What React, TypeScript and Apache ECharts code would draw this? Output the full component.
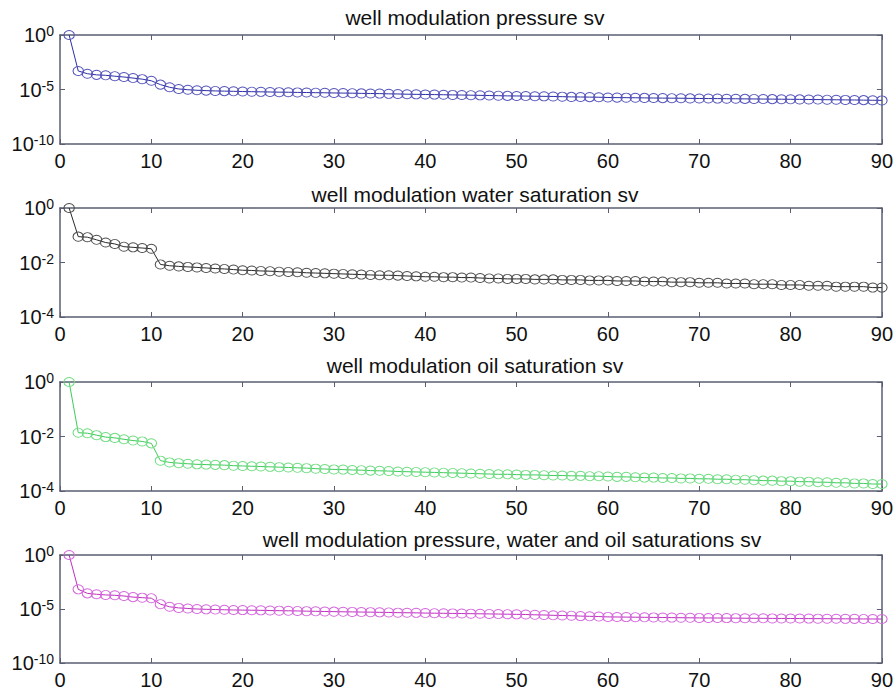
import React, { useEffect, useRef } from "react";
import * as echarts from "echarts";

// Iteration index (1..90) shared by all four panels
const iterations: number[] = Array.from({ length: 90 }, (_, i) => i + 1);

const titles: string[] = [
  "well modulation pressure sv",
  "well modulation water saturation sv",
  "well modulation oil saturation sv",
  "well modulation pressure, water and oil saturations sv",
];

const xTicks: number[] = [0, 10, 20, 30, 40, 50, 60, 70, 80, 90];

// Singular values, one array per modulation
const pressureSv: number[] = [
  1, 5.0e-4, 2.8e-4, 2.2e-4, 2.0e-4, 1.66e-4, 1.4e-4, 1.12e-4, 8.9e-5, 6.3e-5,
  2.8e-5, 1.6e-5, 1.12e-5, 9.5e-6, 8.5e-6, 7.9e-6, 7.4e-6, 7.1e-6, 6.8e-6, 6.5e-6,
  6.3e-6, 6.1e-6, 5.9e-6, 5.7e-6, 5.6e-6, 5.4e-6, 5.3e-6, 5.1e-6, 5.0e-6, 4.8e-6,
  4.7e-6, 4.6e-6, 4.4e-6, 4.3e-6, 4.2e-6, 4.0e-6, 3.9e-6, 3.7e-6, 3.6e-6, 3.5e-6,
  3.4e-6, 3.3e-6, 3.2e-6, 3.1e-6, 3.0e-6, 2.9e-6, 2.8e-6, 2.7e-6, 2.6e-6, 2.55e-6,
  2.5e-6, 2.4e-6, 2.35e-6, 2.3e-6, 2.2e-6, 2.1e-6, 2.05e-6, 2.0e-6, 1.95e-6, 1.85e-6,
  1.8e-6, 1.78e-6, 1.75e-6, 1.7e-6, 1.66e-6, 1.62e-6, 1.6e-6, 1.57e-6, 1.53e-6, 1.5e-6,
  1.48e-6, 1.46e-6, 1.43e-6, 1.41e-6, 1.38e-6, 1.36e-6, 1.33e-6, 1.31e-6, 1.28e-6, 1.26e-6,
  1.24e-6, 1.21e-6, 1.19e-6, 1.16e-6, 1.14e-6, 1.11e-6, 1.09e-6, 1.06e-6, 1.03e-6, 1.0e-6,
];

const waterSv: number[] = [
  1, 0.089, 0.085, 0.068, 0.054, 0.048, 0.038, 0.036, 0.034, 0.032,
  0.0085, 0.0076, 0.0072, 0.0069, 0.0066, 0.0063, 0.006, 0.0058, 0.0055, 0.0052,
  0.0051, 0.0049, 0.0048, 0.0046, 0.0045, 0.0044, 0.0042, 0.0041, 0.004, 0.0039,
  0.0038, 0.0037, 0.0036, 0.0035, 0.0034, 0.0034, 0.0033, 0.0032, 0.0031, 0.003,
  0.003, 0.0029, 0.0029, 0.0028, 0.0028, 0.0027, 0.0026, 0.0026, 0.0025, 0.0025,
  0.0025, 0.0024, 0.0024, 0.0024, 0.0023, 0.0023, 0.0023, 0.0022, 0.0022, 0.0022,
  0.0021, 0.0021, 0.0021, 0.002, 0.002, 0.002, 0.0019, 0.0019, 0.0019, 0.0018,
  0.0018, 0.0018, 0.0017, 0.0017, 0.0017, 0.0016, 0.0016, 0.0016, 0.0015, 0.0015,
  0.0015, 0.0014, 0.0014, 0.0014, 0.0013, 0.0013, 0.0013, 0.0013, 0.0012, 0.0012,
];

const oilSv: number[] = [
  1, 0.0138, 0.0132, 0.0112, 0.0095, 0.0089, 0.0079, 0.0071, 0.0066, 0.0056,
  0.0013, 0.00112, 0.00105, 0.001, 0.00095, 0.00093, 0.00091, 0.00089, 0.00085, 0.00083,
  0.00081, 0.00079, 0.00077, 0.00075, 0.00073, 0.00071, 0.00069, 0.00066, 0.00064, 0.00062,
  0.00061, 0.00059, 0.00058, 0.00056, 0.00055, 0.00054, 0.00052, 0.00051, 0.0005, 0.00049,
  0.00048, 0.00047, 0.00046, 0.00045, 0.00044, 0.00043, 0.00042, 0.00041, 0.00041, 0.0004,
  0.00039, 0.00039, 0.00038, 0.00037, 0.00037, 0.00036, 0.00036, 0.00035, 0.00035, 0.00034,
  0.00033, 0.00033, 0.00032, 0.00031, 0.00031, 0.0003, 0.0003, 0.00029, 0.00029, 0.00028,
  0.00028, 0.00027, 0.00027, 0.00026, 0.00026, 0.00025, 0.00024, 0.00024, 0.00023, 0.00023,
  0.00022, 0.00022, 0.00021, 0.00021, 0.0002, 0.0002, 0.00019, 0.00019, 0.00018, 0.00018,
];

const combinedSv: number[] = [
  1, 6.6e-4, 2.8e-4, 2.3e-4, 2.0e-4, 1.86e-4, 1.6e-4, 1.26e-4, 1.12e-4, 1.0e-4,
  2.8e-5, 1.6e-5, 1.26e-5, 1.12e-5, 1.0e-5, 9.3e-6, 8.9e-6, 8.5e-6, 8.1e-6, 7.9e-6,
  7.7e-6, 7.5e-6, 7.2e-6, 7.0e-6, 6.8e-6, 6.6e-6, 6.3e-6, 6.1e-6, 5.9e-6, 5.7e-6,
  5.5e-6, 5.4e-6, 5.2e-6, 5.1e-6, 4.9e-6, 4.8e-6, 4.6e-6, 4.5e-6, 4.4e-6, 4.2e-6,
  4.1e-6, 4.0e-6, 3.9e-6, 3.8e-6, 3.7e-6, 3.6e-6, 3.5e-6, 3.4e-6, 3.3e-6, 3.2e-6,
  3.1e-6, 2.9e-6, 2.8e-6, 2.6e-6, 2.5e-6, 2.4e-6, 2.2e-6, 2.1e-6, 2.0e-6, 1.85e-6,
  1.82e-6, 1.78e-6, 1.74e-6, 1.7e-6, 1.66e-6, 1.63e-6, 1.6e-6, 1.56e-6, 1.53e-6, 1.5e-6,
  1.48e-6, 1.46e-6, 1.44e-6, 1.42e-6, 1.4e-6, 1.38e-6, 1.37e-6, 1.35e-6, 1.33e-6, 1.32e-6,
  1.31e-6, 1.29e-6, 1.28e-6, 1.26e-6, 1.25e-6, 1.23e-6, 1.22e-6, 1.2e-6, 1.19e-6, 1.17e-6,
];

const panelSeries: number[][] = [pressureSv, waterSv, oilSv, combinedSv];

// Log-axis extents (exponents of ten) and tick step for each panel
const yMinExp: number[] = [-10, -4, -4, -10];
const yMaxExp: number[] = [0, 0, 0, 0];
const yStepExp: number[] = [5, 2, 2, 5];

const lineColors: string[] = ["#2f2fa8", "#2a2a2a", "#3ccc5a", "#c030c0"];
const markerColors: string[] = ["#5656bc", "#505050", "#72dc84", "#d468dc"];

const FONT = "'Liberation Sans', Arial, Helvetica, sans-serif";
const NARROW = "'Liberation Sans Narrow', 'Liberation Sans', Arial, sans-serif";
const AXIS = "#5a5e70";

const gridTops = [35, 208, 382, 555];
const gridHeights = [109, 109, 109, 108];
const titleTops = [2, 179, 350, 524];
const titleCenters = [470, 470, 470, 507];
const GRID_LEFT = 60;
const GRID_RIGHT = 13;

export default function App() {
  const ref = useRef<HTMLDivElement>(null);

  useEffect(() => {
    if (!ref.current) return;
    const chart = echarts.init(ref.current, null, { renderer: "svg" });

    const grids: any[] = [];
    const xAxes: any[] = [];
    const yAxes: any[] = [];
    const series: any[] = [];
    const titleList: any[] = [];

    panelSeries.forEach((values, p) => {
      grids.push({
        left: GRID_LEFT,
        right: GRID_RIGHT,
        top: gridTops[p],
        height: gridHeights[p],
        containLabel: false,
      });

      const tickStyle = { show: true, inside: true, length: 5, lineStyle: { color: AXIS, width: 1 } };
      const lineStyle = { show: true, onZero: false, lineStyle: { color: AXIS, width: 1.5 } };

      // bottom x axis with labels
      xAxes.push({
        type: "value",
        gridIndex: p,
        position: "bottom",
        min: xTicks[0],
        max: xTicks[xTicks.length - 1],
        interval: 10,
        axisLine: lineStyle,
        axisTick: tickStyle,
        splitLine: { show: false },
        axisLabel: { fontSize: 20, color: "#111", fontFamily: FONT, margin: 7 },
      });
      // top x axis mirrors the ticks to close the box
      xAxes.push({
        type: "value",
        gridIndex: p,
        position: "top",
        min: xTicks[0],
        max: xTicks[xTicks.length - 1],
        interval: 10,
        axisLine: lineStyle,
        axisTick: tickStyle,
        splitLine: { show: false },
        axisLabel: { show: false },
      });

      const yBase = {
        type: "log",
        logBase: 10,
        gridIndex: p,
        min: Math.pow(10, yMinExp[p]),
        max: Math.pow(10, yMaxExp[p]),
        interval: yStepExp[p],
        axisLine: lineStyle,
        axisTick: tickStyle,
        splitLine: { show: false },
        minorTick: { show: false },
      };
      yAxes.push({
        ...yBase,
        position: "left",
        axisLabel: {
          margin: 6,
          fontFamily: NARROW,
          color: "#111",
          formatter: (v: number) => `{b|10}{s|${Math.round(Math.log10(v))}}`,
          rich: {
            b: { fontSize: 20, fontFamily: NARROW, color: "#111", lineHeight: 22 },
            s: { fontSize: 14, fontFamily: FONT, color: "#111", verticalAlign: "top", lineHeight: 14, padding: [0, 0, 10, 0] },
          },
        },
      });
      yAxes.push({
        ...yBase,
        position: "right",
        axisLabel: { show: false },
      });

      series.push({
        type: "line",
        xAxisIndex: p * 2,
        yAxisIndex: p * 2,
        data: iterations.map((it, i) => [it, values[i]]),
        symbol: "circle",
        symbolSize: [10.5, 9],
        showAllSymbol: true,
        lineStyle: { color: lineColors[p], width: 1 },
        itemStyle: { color: "rgba(0,0,0,0)", borderColor: markerColors[p], borderWidth: 1 },
        clip: false,
      });

      titleList.push({
        text: titles[p],
        left: titleCenters[p],
        textAlign: "center",
        top: titleTops[p],
        textStyle: { fontSize: 21, fontWeight: "normal", color: "#111", fontFamily: FONT },
      });
    });

    chart.setOption({
      animation: false,
      backgroundColor: "#ffffff",
      title: titleList,
      grid: grids,
      xAxis: xAxes,
      yAxis: yAxes,
      series,
    });

    return () => chart.dispose();
  }, []);

  return (
    <div
      ref={ref}
      style={{ position: "fixed", left: 0, top: 0, width: 896, height: 696 }}
    />
  );
}
